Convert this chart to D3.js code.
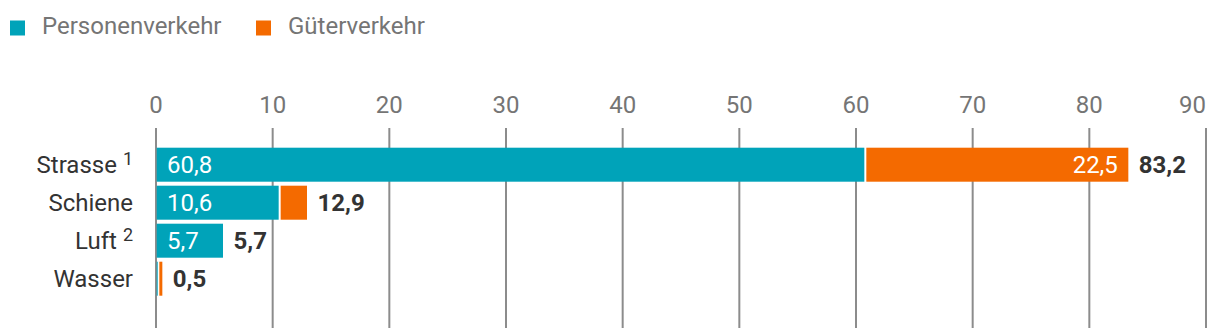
<!DOCTYPE html>
<html>
<head>
<meta charset="utf-8">
<script src="https://cdn.jsdelivr.net/npm/d3@7"></script>
<style>
  body { margin: 0; background: #fff; }
  svg { display: block; font-family: Roboto, sans-serif; }
</style>
</head>
<body>
<div id="chart"></div>
<script>
// Data
const categories = ["Strasse", "Schiene", "Luft", "Wasser"];
const footnotes = ["1", "", "2", ""];
const personen = [60.8, 10.6, 5.7, 0.2];
const gueter = [22.5, 2.3, 0, 0.3];
const totals = ["83,2", "12,9", "5,7", "0,5"];
const ticks = [0, 10, 20, 30, 40, 50, 60, 70, 80, 90];
const seriesNames = ["Personenverkehr", "Güterverkehr"];
const colors = ["#00a3b9", "#f46a00"];

const width = 1220, height = 328;

const svg = d3.select("#chart")
    .append("svg")
    .attr("width", width)
    .attr("height", height);

const x = d3.scaleLinear()
    .domain([0, 90])
    .range([156, 1206]);

const y = d3.scaleBand()
    .domain(categories)
    .range([145.7, 297.7])
    .paddingInner(4 / 38)
    .paddingOuter(2 / 38);

const fmt = v => d3.format(".1f")(v).replace(".", ",");
const baseline = d => y(d) + y.bandwidth() / 2 + 8;

// Legend
const legend = svg.append("g");
const legendX = [10, 256];
seriesNames.forEach((name, i) => {
    legend.append("rect")
        .attr("x", legendX[i])
        .attr("y", 20.5)
        .attr("width", 15)
        .attr("height", 15)
        .attr("fill", colors[i]);
    legend.append("text")
        .attr("x", legendX[i] + 32)
        .attr("y", 33.5)
        .attr("fill", "#757575")
        .attr("font-size", 24)
        .text(name);
});

// Grid lines
svg.append("g")
    .selectAll("line")
    .data(ticks)
    .join("line")
    .attr("x1", d => x(d))
    .attr("x2", d => x(d))
    .attr("y1", 128)
    .attr("y2", height)
    .attr("stroke", "#8c8c8c")
    .attr("stroke-width", 2);

// Tick labels (last one kept inside the chart)
svg.append("g")
    .selectAll("text")
    .data(ticks)
    .join("text")
    .attr("x", d => x(d))
    .attr("y", 113)
    .attr("text-anchor", (d, i) => i === ticks.length - 1 ? "end" : "middle")
    .attr("fill", "#757575")
    .attr("font-size", 24)
    .text(d => d);

// Stacked bars
const rows = categories.map((c, i) => ({
    cat: c,
    segs: [
        {s: 0, v: personen[i], e: personen[i]},
        {s: personen[i], v: gueter[i], e: personen[i] + gueter[i]}
    ]
}));

const bars = svg.append("g");
rows.forEach(r => {
    r.segs.forEach((seg, j) => {
        if (seg.v <= 0) return;
        const x0 = x(seg.s) + (j > 0 ? 1 : 0.7);
        const x1 = x(seg.e) + (j === 0 && r.segs[1].v > 0 ? -1 : 0.5);
        bars.append("rect")
            .attr("x", x0)
            .attr("y", y(r.cat))
            .attr("width", Math.max(1, x1 - x0))
            .attr("height", y.bandwidth())
            .attr("fill", colors[j]);
    });
});

// Value labels inside bars
rows.forEach(r => {
    const p = r.segs[0], g = r.segs[1];
    if (x(p.e) - x(p.s) > 50) {
        svg.append("text")
            .attr("x", x(p.s) + 11)
            .attr("y", baseline(r.cat))
            .attr("fill", "#fff")
            .attr("font-size", 24)
            .text(fmt(p.v));
    }
    if (x(g.e) - x(g.s) > 50) {
        svg.append("text")
            .attr("x", x(g.e) - 10)
            .attr("y", baseline(r.cat))
            .attr("text-anchor", "end")
            .attr("fill", "#fff")
            .attr("font-size", 24)
            .text(fmt(g.v));
    }
});

// Totals
svg.append("g")
    .selectAll("text")
    .data(categories)
    .join("text")
    .attr("x", (d, i) => x(personen[i] + gueter[i]) + 11)
    .attr("y", d => baseline(d))
    .attr("fill", "#333")
    .attr("font-size", 24)
    .attr("font-weight", "bold")
    .text((d, i) => totals[i]);

// Category labels
const catLabels = svg.append("g")
    .selectAll("text")
    .data(categories)
    .join("text")
    .attr("x", 133)
    .attr("y", d => baseline(d))
    .attr("text-anchor", "end")
    .attr("fill", "#333")
    .attr("font-size", 24);

catLabels.each(function(d, i) {
    const t = d3.select(this);
    if (footnotes[i]) {
        t.append("tspan").text(d + " ");
        t.append("tspan")
            .attr("font-size", 18)
            .attr("dy", -7.5)
            .text(footnotes[i]);
    } else {
        t.text(d);
    }
});
</script>
</body>
</html>
